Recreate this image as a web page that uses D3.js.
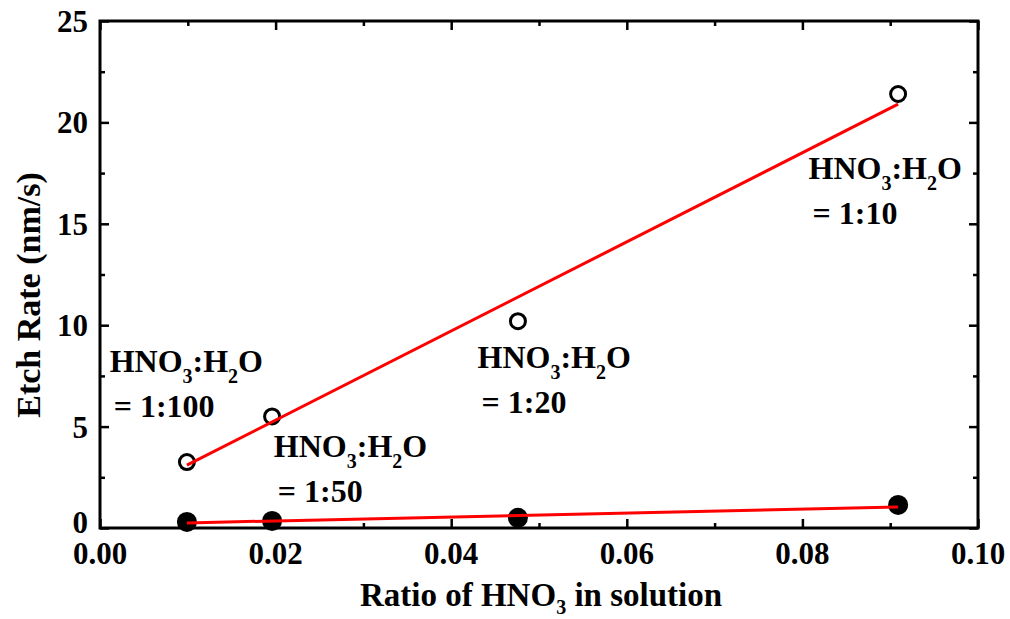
<!DOCTYPE html>
<html><head><meta charset="utf-8">
<script src="https://cdn.jsdelivr.net/npm/d3@7"></script>
<style>body{margin:0;background:#fff}svg{display:block}text{font-family:"Liberation Serif","Times New Roman",serif;font-weight:bold;fill:#000}</style>
</head><body>
<svg id="c" width="1010" height="619"></svg>
<script>
const ratios = [0.0099, 0.0196, 0.0476, 0.0909];
const etchOpen = [3.25, 5.5, 10.2, 21.4];
const etchFilled = [0.3, 0.35, 0.5, 1.14];
const fitOpen = [[0.0099, 3.1], [0.0909, 20.9]];
const fitFilled = [[0.0099, 0.25], [0.0909, 1.04]];
const xTicks = [0, 0.02, 0.04, 0.06, 0.08, 0.10];
const xMinor = [0.01, 0.03, 0.05, 0.07, 0.09];
const yTicks = [0, 5, 10, 15, 20, 25];
const yMinor = [2.5, 7.5, 12.5, 17.5, 22.5];
const labels = [
  {x: 0.0011, y: 7.7, ratio: "1:100"},
  {x: 0.0198, y: 3.5, ratio: "1:50"},
  {x: 0.0430, y: 7.9, ratio: "1:20"},
  {x: 0.0807, y: 17.2, ratio: "1:10"}
];

const svg = d3.select("#c");
const m = {l: 100, r: 978, t: 21, b: 528};
const x = d3.scaleLinear().domain([0, 0.10]).range([m.l, m.r]);
const y = d3.scaleLinear().domain([0, 25]).range([m.b, m.t]);

// frame
svg.append("rect").attr("x", m.l).attr("y", m.t).attr("width", m.r - m.l).attr("height", m.b - m.t)
  .attr("fill", "none").attr("stroke", "#000").attr("stroke-width", 3);

function ticks(g, axisFn, scale, vals, len) {
  const a = axisFn(scale).tickValues(vals).tickSizeInner(-len).tickSizeOuter(0).tickFormat("");
  g.call(a);
  g.select(".domain").remove();
  g.selectAll("line").attr("stroke", "#000").attr("stroke-width", 2.5);
}
ticks(svg.append("g").attr("transform", `translate(0,${m.b})`), d3.axisBottom, x, xTicks, 9);
ticks(svg.append("g").attr("transform", `translate(0,${m.b})`), d3.axisBottom, x, xMinor, 5);
ticks(svg.append("g").attr("transform", `translate(0,${m.t})`), d3.axisTop, x, xTicks, 9);
ticks(svg.append("g").attr("transform", `translate(0,${m.t})`), d3.axisTop, x, xMinor, 5);
ticks(svg.append("g").attr("transform", `translate(${m.l},0)`), d3.axisLeft, y, yTicks, 9);
ticks(svg.append("g").attr("transform", `translate(${m.l},0)`), d3.axisLeft, y, yMinor, 5);
ticks(svg.append("g").attr("transform", `translate(${m.r},0)`), d3.axisRight, y, yTicks, 9);
ticks(svg.append("g").attr("transform", `translate(${m.r},0)`), d3.axisRight, y, yMinor, 5);

// tick labels
svg.append("g").selectAll("text").data(xTicks).join("text")
  .attr("x", d => x(d)).attr("y", 564).attr("text-anchor", "middle").attr("font-size", 31)
  .text(d => d3.format(".2f")(d));
svg.append("g").selectAll("text").data(yTicks).join("text")
  .attr("x", 88).attr("y", d => y(d) + (d === 0 ? 5 : 11)).attr("text-anchor", "end").attr("font-size", 31)
  .text(d => d);

// axis titles
const xt = svg.append("text").attr("x", 541).attr("y", 606).attr("text-anchor", "middle").attr("font-size", 33);
xt.append("tspan").text("Ratio of HNO");
xt.append("tspan").attr("font-size", 20).attr("dy", 8).text("3");
xt.append("tspan").attr("dy", -8).text(" in solution");
svg.append("text").attr("transform", "translate(40,295) rotate(-90)").attr("text-anchor", "middle")
  .attr("font-size", 34).text("Etch Rate (nm/s)");

// markers
const pts = ratios.map((r, i) => ({r, o: etchOpen[i], f: etchFilled[i]}));
svg.append("g").selectAll("circle").data(pts).join("circle")
  .attr("cx", d => x(d.r)).attr("cy", d => y(d.o)).attr("r", 7.5)
  .attr("fill", "#fff").attr("stroke", "#000").attr("stroke-width", 3);
svg.append("g").selectAll("circle").data(pts).join("circle")
  .attr("cx", d => x(d.r)).attr("cy", d => y(d.f)).attr("r", 10).attr("fill", "#000");

// fit lines
const line = d3.line().x(d => x(d[0])).y(d => y(d[1]));
[fitOpen, fitFilled].forEach(f => svg.append("path").attr("d", line(f))
  .attr("fill", "none").attr("stroke", "#ff0000").attr("stroke-width", 3));

// annotations
labels.forEach(L => {
  const t = svg.append("text").attr("x", x(L.x)).attr("y", y(L.y)).attr("font-size", 32);
  t.append("tspan").text("HNO");
  t.append("tspan").attr("font-size", 20).attr("dy", 11).text("3");
  t.append("tspan").attr("dy", -11).text(":H");
  t.append("tspan").attr("font-size", 20).attr("dy", 11).text("2");
  t.append("tspan").attr("dy", -11).text("O");
  svg.append("text").attr("x", x(L.x) + 4).attr("y", y(L.y) + 45).attr("font-size", 32)
    .text("= " + L.ratio);
});
</script>
</body></html>
